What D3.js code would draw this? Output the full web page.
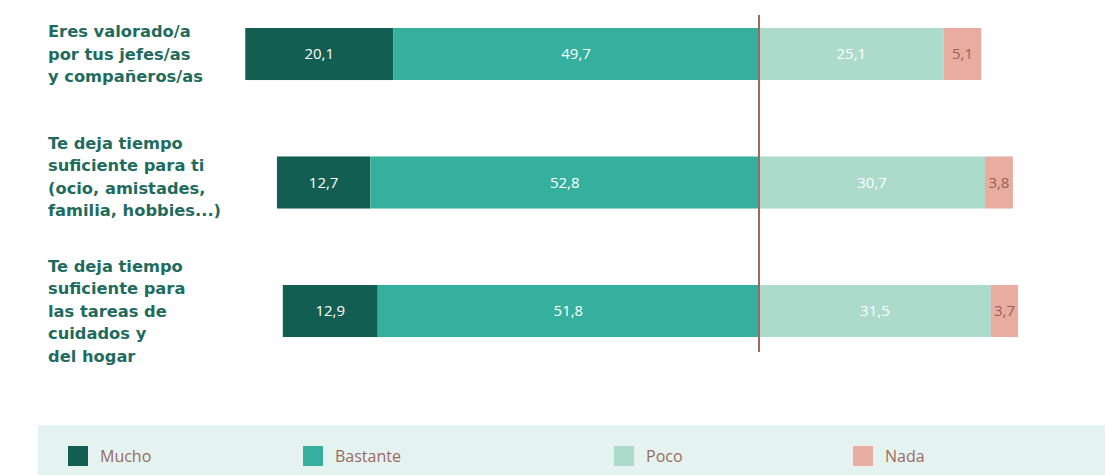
<!DOCTYPE html>
<html>
<head>
<meta charset="utf-8">
<script src="https://cdn.jsdelivr.net/npm/d3@7"></script>
<style>
  html, body { margin: 0; padding: 0; background: #ffffff; }
  svg { display: block; font-family: "DejaVu Sans", "Noto Sans", sans-serif; }
</style>
</head>
<body>
<svg id="chart" width="1105" height="475"></svg>
<script>
// Survey statements (each entry is a list of wrapped lines)
const categories = [
  ["Eres valorado/a", "por tus jefes/as", "y compañeros/as"],
  ["Te deja tiempo", "suficiente para ti", "(ocio, amistades,", "familia, hobbies...)"],
  ["Te deja tiempo", "suficiente para", "las tareas de", "cuidados y", "del hogar"]
];

// Response levels, percentages per statement
const seriesNames = ["Mucho", "Bastante", "Poco", "Nada"];
const mucho    = [20.1, 12.7, 12.9];
const bastante = [49.7, 52.8, 51.8];
const poco     = [25.1, 30.7, 31.5];
const nada     = [5.1, 3.8, 3.7];

const colors = ["#135e52", "#35b09e", "#acdacb", "#e8ada0"];
const fmt = v => v.toFixed(1).replace(".", ",");

const svg = d3.select("#chart");
const W = 1105, H = 475;

// Diverging scale: positive answers to the left of zero, negative to the right
const x = d3.scaleLinear().domain([-70, 50]).range([243.8, 1127]);
const y = d3.scaleBand().domain(d3.range(categories.length)).range([28, 337]).paddingInner(0.595).paddingOuter(0);

// Build stacked segments
const rows = categories.map((c, i) => {
  const vals = [mucho[i], bastante[i], poco[i], nada[i]];
  const segs = [];
  let left = -(vals[0] + vals[1]);
  vals.forEach((v, k) => {
    segs.push({ k, v, x0: left, x1: left + v, row: i });
    left += v;
  });
  return segs;
});

const barG = svg.append("g");
rows.forEach((segs, i) => {
  const g = barG.append("g");
  g.selectAll("rect").data(segs).join("rect")
    .attr("x", d => x(d.x0))
    .attr("y", y(i))
    .attr("width", d => x(d.x1) - x(d.x0))
    .attr("height", y.bandwidth())
    .attr("fill", d => colors[d.k]);
  g.selectAll("text").data(segs).join("text")
    .attr("x", d => (x(d.x0) + x(d.x1)) / 2)
    .attr("y", y(i) + y.bandwidth() / 2)
    .attr("dy", "0.36em")
    .attr("text-anchor", "middle")
    .attr("font-family", "'Open Sans', sans-serif")
    .attr("font-size", 15)
    .attr("font-weight", 500)
    .attr("fill", d => d.k === 3 ? "#9a5f55" : "#ffffff")
    .text(d => fmt(d.v));
});

// Zero line
svg.append("line")
  .attr("x1", x(0)).attr("x2", x(0))
  .attr("y1", 15).attr("y2", 352)
  .attr("stroke", "#a0695f").attr("stroke-width", 2);

// Category labels
const lh = 22.5;
const labelShift = [0, -6, 0];
categories.forEach((lines, i) => {
  const cy = y(i) + y.bandwidth() / 2 + labelShift[i];
  const t = svg.append("text")
    .attr("x", 48)
    .attr("font-size", 16.3)
    .attr("font-weight", 700)
    .attr("fill", "#1f6b5e");
  lines.forEach((ln, j) => {
    t.append("tspan")
      .attr("x", 48)
      .attr("y", cy + (j - (lines.length - 1) / 2) * lh)
      .attr("dy", "0.36em")
      .text(ln);
  });
});

// Legend band
svg.append("rect")
  .attr("x", 38).attr("y", 425).attr("width", W - 38).attr("height", 50)
  .attr("fill", "#e4f3f0");

const legendX = [68, 303, 614, 853];
const lg = svg.append("g").selectAll("g").data(seriesNames).join("g")
  .attr("transform", (d, i) => `translate(${legendX[i]},446)`);
lg.append("rect").attr("width", 20).attr("height", 20).attr("fill", (d, i) => colors[i]);
lg.append("text")
  .attr("x", 32).attr("y", 10).attr("dy", "0.36em")
  .attr("font-family", "'Open Sans', sans-serif")
  .attr("font-size", 16)
  .attr("font-weight", 500)
  .attr("fill", "#9a6a60")
  .text(d => d);
</script>
</body>
</html>
